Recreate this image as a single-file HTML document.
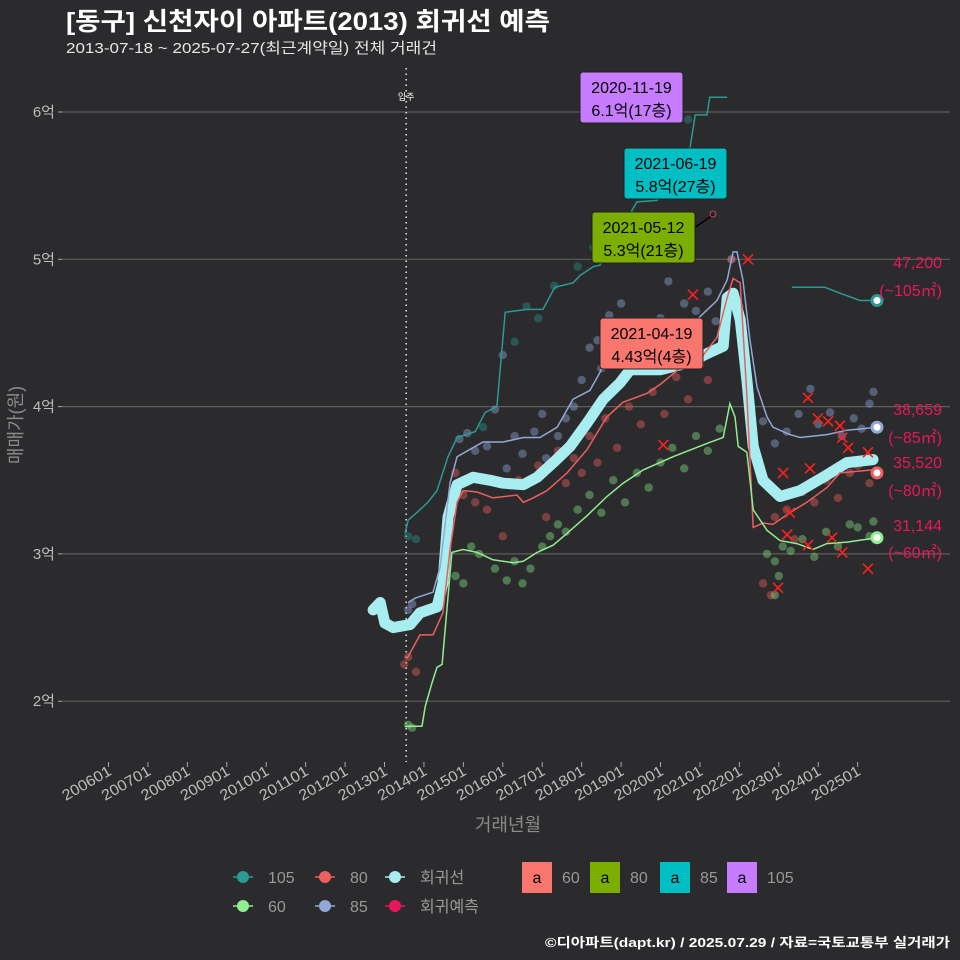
<!DOCTYPE html>
<html><head><meta charset="utf-8">
<style>
html,body{margin:0;padding:0;background:#2b2b2d;}
svg{display:block;font-family:"Liberation Sans","Noto Sans CJK KR",sans-serif;}
</style></head>
<body>
<svg id="chart" width="960" height="960" viewBox="0 0 960 960">
<rect x="0" y="0" width="960" height="960" fill="#2b2b2d"/>
<text x="66" y="30" fill="#ffffff" font-size="25" font-weight="bold" textLength="484" lengthAdjust="spacingAndGlyphs">[동구] 신천자이 아파트(2013) 회귀선 예측</text>
<text x="66" y="53" fill="#e6e6e6" font-size="15" textLength="371" lengthAdjust="spacingAndGlyphs">2013-07-18 ~ 2025-07-27(최근계약일) 전체 거래건</text>
<text transform="translate(22,425) rotate(-90)" text-anchor="middle" fill="#8a8a8a" font-size="18">매매가(원)</text>
<text x="508" y="831" text-anchor="middle" fill="#8a8a8a" font-size="18">거래년월</text>
<text x="545" y="947" fill="#ffffff" font-size="13" font-weight="bold" textLength="405" lengthAdjust="spacingAndGlyphs">©디아파트(dapt.kr) / 2025.07.29 / 자료=국토교통부 실거래가</text>
<g id="grid"></g>
<g id="pts"></g>
<g id="lines"></g>
<g id="marks"></g>
<g id="annot"></g>
<g id="legend"></g>
</svg>
<script>
// ---- data ----
const yTicks = [2,3,4,5,6];
const yTickLabels = ["2억","3억","4억","5억","6억"];
const xTickYears = [2006,2007,2008,2009,2010,2011,2012,2013,2014,2015,2016,2017,2018,2019,2020,2021,2022,2023,2024,2025];
const xTickLabels = ["200601","200701","200801","200901","201001","201101","201201","201301","201401","201501","201601","201701","201801","201901","202001","202101","202201","202301","202401","202501"];
const moveInYear = 2013.55;

const t105 = [2013.52,2013.60,2013.82,2014.10,2014.33,2014.61,2014.84,2015.30,2015.55,2015.85,2016.06,2016.61,2017.02,2017.32,2017.78,2017.96,2018.29,2018.46,2019.40,2019.91,2020.75,2020.88,2021.18,2021.25,2021.69];
const v105 = [3.14,3.23,3.28,3.35,3.43,3.66,3.79,3.83,3.96,4.00,4.64,4.66,4.66,4.81,4.84,4.89,4.95,4.96,5.39,5.40,5.76,5.98,5.98,6.10,6.10];
const t105b = [2023.33,2024.17,2024.55,2025.06,2025.49];
const v105b = [4.81,4.81,4.77,4.72,4.72];

const t85 = [2013.60,2013.78,2014.23,2014.41,2014.66,2014.84,2015.17,2015.50,2016.01,2016.52,2016.94,2017.38,2017.78,2018.21,2018.46,2018.64,2019.48,2020.49,2021.00,2021.43,2021.69,2021.84,2021.94,2022.09,2022.27,2022.45,2022.70,2022.85,2023.28,2023.54,2024.22,2024.73,2025.49];
const v85 = [2.67,2.70,2.74,2.91,3.48,3.66,3.71,3.76,3.76,3.79,3.79,3.86,4.05,4.11,4.23,4.34,4.38,4.45,4.61,4.72,4.86,5.05,5.05,4.86,4.45,4.13,3.93,3.86,3.81,3.79,3.81,3.84,3.86];

const t80 = [2013.57,2013.90,2014.23,2014.48,2014.66,2014.84,2014.99,2015.35,2015.75,2016.36,2016.52,2016.77,2017.12,2017.63,2018.14,2018.64,2019.05,2019.66,2019.99,2020.49,2021.00,2021.43,2021.69,2021.84,2022.02,2022.19,2022.35,2022.60,2022.85,2023.28,2023.71,2024.22,2024.55,2025.39,2025.49];
const v80 = [2.29,2.45,2.45,2.60,3.03,3.35,3.43,3.42,3.38,3.40,3.35,3.38,3.43,3.55,3.71,3.93,4.03,4.09,4.15,4.26,4.32,4.47,4.74,4.87,4.84,4.07,3.18,3.21,3.20,3.28,3.35,3.45,3.55,3.57,3.55];

const t60 = [2013.52,2013.95,2014.03,2014.20,2014.33,2014.46,2014.71,2014.99,2015.35,2015.75,2016.26,2016.52,2016.87,2017.28,2017.63,2018.14,2018.64,2019.05,2019.56,2020.32,2021.18,2021.59,2021.76,2021.89,2021.97,2022.19,2022.35,2022.70,2023.03,2023.46,2023.87,2024.22,2024.73,2025.49];
const v60 = [1.83,1.83,1.96,2.12,2.23,2.25,3.01,3.03,3.01,2.96,2.94,2.95,3.01,3.06,3.14,3.26,3.39,3.48,3.57,3.66,3.75,3.79,4.02,3.93,3.73,3.69,3.30,3.16,3.09,3.07,3.03,3.07,3.08,3.11];

const tReg = [2012.71,2012.89,2013.01,2013.22,2013.65,2013.90,2014.33,2014.48,2014.61,2014.84,2015.25,2015.68,2016.01,2016.52,2016.87,2017.28,2017.71,2018.14,2018.55,2018.97,2019.23,2019.99,2020.75,2021.18,2021.59,2021.69,2021.84,2022.02,2022.19,2022.35,2022.60,2023.03,2023.54,2024.12,2024.73,2025.39];
const vReg = [2.62,2.67,2.53,2.50,2.52,2.60,2.64,2.80,3.25,3.47,3.52,3.50,3.48,3.47,3.52,3.62,3.73,3.89,4.05,4.16,4.25,4.25,4.30,4.36,4.41,4.74,4.77,4.59,4.18,3.73,3.50,3.39,3.43,3.52,3.62,3.64];

const tPred = [2022.22,2020.82,2020.07,2023.74,2023.99,2024.25,2024.55,2024.61,2024.76,2025.26,2023.11,2023.79,2023.28,2023.21,2023.74,2024.35,2024.61,2025.26,2022.98];
const vPred = [5.00,4.76,3.74,4.06,3.92,3.90,3.87,3.79,3.72,3.69,3.55,3.58,3.28,3.13,3.06,3.11,3.01,2.90,2.77];

const p105t = [2013.6,2013.8,2015.5,2016.3,2016.9,2017.3,2017.9,2018.3,2018.6,2019.1,2019.3,2020.1,2020.4,2020.7,2019.6,2016.6];
const p105v = [3.12,3.10,3.86,4.44,4.60,4.82,4.95,5.08,5.05,5.25,5.30,5.44,5.62,5.95,5.10,4.68];
const p85t = [2013.6,2013.7,2014.9,2015.1,2015.3,2015.6,2015.8,2016.0,2016.3,2016.5,2016.8,2017.1,2017.4,2017.6,2017.8,2018.0,2018.2,2018.4,2018.5,2018.7,2018.9,2019.2,2019.4,2019.7,2020.0,2020.3,2020.6,2020.9,2021.2,2021.4,2021.8,2022.0,2022.6,2022.9,2023.2,2023.5,2023.8,2024.0,2024.3,2024.6,2024.9,2025.1,2025.3,2025.4,2016.1,2017.0,2019.0,2020.2];
const p85v = [2.62,2.66,3.78,3.82,3.70,3.73,3.98,4.35,3.80,3.68,3.83,3.65,3.80,3.92,4.00,4.18,4.40,4.45,4.26,4.62,4.40,4.55,4.30,4.45,4.60,4.48,4.70,4.65,4.78,4.58,5.00,4.68,3.90,3.75,3.83,3.95,4.12,3.88,3.96,3.80,3.92,3.85,4.02,4.10,3.58,3.95,4.70,4.85];
const p80t = [2013.5,2013.6,2013.8,2014.8,2015.0,2015.3,2015.6,2016.0,2016.4,2016.9,2017.1,2017.4,2017.6,2017.8,2018.0,2018.2,2018.4,2018.6,2018.9,2019.2,2019.5,2019.8,2020.1,2020.4,2020.7,2021.0,2021.2,2021.8,2022.6,2022.9,2023.2,2023.4,2023.6,2023.9,2024.2,2024.5,2024.8,2025.0,2025.3,2025.4,2022.8,2023.1];
const p80v = [2.25,2.30,2.20,3.55,3.40,3.35,3.30,3.12,3.50,3.60,3.25,3.70,3.48,3.65,3.55,3.80,3.62,3.92,3.72,4.00,3.88,4.10,3.95,4.20,4.05,4.28,4.18,5.00,2.80,3.25,3.30,3.10,3.42,3.35,3.50,3.38,3.55,3.60,3.48,3.65,2.72,3.40];
const p60t = [2013.6,2013.7,2014.8,2015.0,2015.2,2015.4,2015.8,2016.1,2016.3,2016.5,2016.7,2017.0,2017.2,2017.4,2017.6,2017.9,2018.2,2018.5,2018.8,2019.1,2019.4,2019.7,2020.0,2020.3,2020.6,2020.9,2021.2,2021.5,2022.7,2022.9,2023.1,2023.3,2023.6,2023.9,2024.2,2024.5,2024.8,2025.0,2025.3,2025.4,2022.9,2023.0];
const p60v = [1.84,1.82,2.85,2.80,3.05,3.00,2.90,2.82,2.95,2.80,2.90,3.05,3.12,3.20,3.15,3.30,3.40,3.28,3.50,3.35,3.55,3.45,3.62,3.72,3.58,3.80,3.70,3.85,3.00,2.95,3.05,3.02,3.10,2.98,3.15,3.05,3.20,3.18,3.12,3.22,2.72,2.85];

// ---- scales ----
function X(t){return 108.5 + (t-2006)*39.43;}
function Y(v){return 112 + (6-v)*147.3;}
const NS="http://www.w3.org/2000/svg";
function mk(tag,attrs,parent){const e=document.createElementNS(NS,tag);for(const k in attrs)e.setAttribute(k,attrs[k]);parent.appendChild(e);return e;}
const grid=document.getElementById('grid'),pts=document.getElementById('pts'),lines=document.getElementById('lines'),marks=document.getElementById('marks'),annot=document.getElementById('annot'),legend=document.getElementById('legend');

yTicks.forEach((v,i)=>{
  const g=mk('line',{x1:62,x2:950,y1:Y(v),y2:Y(v),stroke:'#5e5e5e','stroke-width':1.2},grid);
  
  
  const tk=mk('line',{x1:58,x2:62,y1:Y(v),y2:Y(v),stroke:'#aaa'},grid);
  
  
  const t=mk('text',{x:55,y:Y(v)+5,'text-anchor':'end',fill:'#bdbdbd','font-size':15},grid);
  t.textContent=yTickLabels[i];
  
  
});
xTickYears.forEach((yr,i)=>{
  const x=X(yr);
  const tk=mk('line',{x1:x,x2:x,y1:762,y2:767,stroke:'#aaa'},grid);
  
  
  const t=mk('text',{x:x+4,y:774,'text-anchor':'end',fill:'#bdbdbd','font-size':15,textLength:'54',lengthAdjust:'spacingAndGlyphs',transform:`rotate(-30 ${x+4} 774)`},grid);
  t.textContent=xTickLabels[i];
  
  
});
const mx=X(moveInYear);
const ml=mk('line',{x1:mx,x2:mx,y1:68,y2:762,stroke:'#dddddd','stroke-width':1.6,'stroke-dasharray':'1.5 4'},grid);


const mt=mk('text',{x:mx,y:100,'text-anchor':'middle',fill:'#fff','font-size':9},grid);
mt.textContent='입주';



function scatter(ts,vs,color,name){
  ts.forEach((t,i)=>{
    const c=mk('circle',{cx:X(t),cy:Y(vs[i]),r:4.2,fill:color,'fill-opacity':0.45},pts);
    
    
  });
}
scatter(p105t,p105v,'#2a8c86','point-105');
scatter(p85t,p85v,'#8aa0d0','point-85');
scatter(p80t,p80v,'#e05a5a','point-80');
scatter(p60t,p60v,'#7ed67e','point-60');

function path(ts,vs){return ts.map((t,i)=>(i?'L':'M')+X(t).toFixed(1)+','+Y(vs[i]).toFixed(1)).join(' ');}
const reg=mk('path',{d:path(tReg,vReg),fill:'none',stroke:'#a8eef0','stroke-width':11,'stroke-linejoin':'round','stroke-linecap':'round'},lines);


const l105=mk('path',{d:path(t105,v105),fill:'none',stroke:'#2a9a92','stroke-width':1.5},lines);


const l105b=mk('path',{d:path(t105b,v105b),fill:'none',stroke:'#2a9a92','stroke-width':1.5},lines);


const l85=mk('path',{d:path(t85,v85),fill:'none',stroke:'#93a8d6','stroke-width':1.5},lines);


const l80=mk('path',{d:path(t80,v80),fill:'none',stroke:'#ec5f5f','stroke-width':1.5},lines);


const l60=mk('path',{d:path(t60,v60),fill:'none',stroke:'#90ee90','stroke-width':1.5},lines);



tPred.forEach((t,i)=>{
  const x=X(t),y=Y(vPred[i]);
  const p=mk('path',{d:`M${x-5},${y-5}L${x+5},${y+5}M${x-5},${y+5}L${x+5},${y-5}`,stroke:'#ff2020','stroke-width':1.6},marks);
  
  
});
const endT=2025.49;
[[v105b[v105b.length-1],'#2a9a92','end-105'],[v85[v85.length-1],'#93a8d6','end-85'],[v80[v80.length-1],'#ec5f5f','end-80'],[v60[v60.length-1],'#90ee90','end-60']].forEach(e=>{
  const c=mk('circle',{cx:X(endT),cy:Y(e[0]),r:5,fill:'#fff',stroke:e[1],'stroke-width':3},marks);
  
  
});
[['47,200',268,'price-105'],['(~105㎡)',296,'area-105'],['38,659',415,'price-85'],['(~85㎡)',443,'area-85'],['35,520',468,'price-80'],['(~80㎡)',496,'area-80'],['31,144',531,'price-60'],['(~60㎡)',558,'area-60']].forEach(a=>{
  const t=mk('text',{x:942,y:a[1],'text-anchor':'end',fill:'#e8175d','font-size':16},annot);
  t.textContent=a[0];
  
  
});
const cl=mk('line',{x1:694,y1:228,x2:713,y2:215,stroke:'#000','stroke-width':1.5},annot);


const cc=mk('circle',{cx:713,cy:214,r:3,fill:'none',stroke:'#c04060'},annot);


[[580,72,'#c77cff','2020-11-19','6.1억(17층)','label-105-max'],[624,148,'#00bfc4','2021-06-19','5.8억(27층)','label-85-max'],[592,212,'#7cae00','2021-05-12','5.3억(21층)','label-80-max'],[600,318,'#f8766d','2021-04-19','4.43억(4층)','label-60-max']].forEach(b=>{
  const g=mk('g',{},annot);
  
  
  mk('rect',{x:b[0],y:b[1],width:103,height:51,rx:3,fill:b[2],stroke:'#222'},g);
  const t1=mk('text',{x:b[0]+51.5,y:b[1]+21,'text-anchor':'middle',fill:'#000','font-size':16},g);
  t1.textContent=b[3];
  const t2=mk('text',{x:b[0]+51.5,y:b[1]+44,'text-anchor':'middle',fill:'#000','font-size':16},g);
  t2.textContent=b[4];
});
[[243,877,'#2a9a92','105'],[325,877,'#ec5f5f','80'],[395,877,'#a8eef0','회귀선'],[243,906,'#90ee90','60'],[325,906,'#93a8d6','85'],[395,906,'#e8175d','회귀예측']].forEach(l=>{
  const g=mk('g',{},legend);
  
  
  mk('line',{x1:l[0]-10,x2:l[0]+10,y1:l[1],y2:l[1],stroke:l[2],'stroke-width':1.5},g);
  mk('circle',{cx:l[0],cy:l[1],r:6,fill:l[2]},g);
  const t=mk('text',{x:l[0]+25,y:l[1]+6,fill:'#999','font-size':16},g);
  t.textContent=l[3];
});
[[522,'#f8766d','60'],[590,'#7cae00','80'],[660,'#00bfc4','85'],[727,'#c77cff','105']].forEach(l=>{
  const g=mk('g',{},legend);
  
  
  mk('rect',{x:l[0],y:862,width:30,height:31,fill:l[1]},g);
  const a=mk('text',{x:l[0]+15,y:883,'text-anchor':'middle',fill:'#000','font-size':16},g);
  a.textContent='a';
  const t=mk('text',{x:l[0]+40,y:883,fill:'#999','font-size':16},g);
  t.textContent=l[2];
});
</script>
</body></html>
